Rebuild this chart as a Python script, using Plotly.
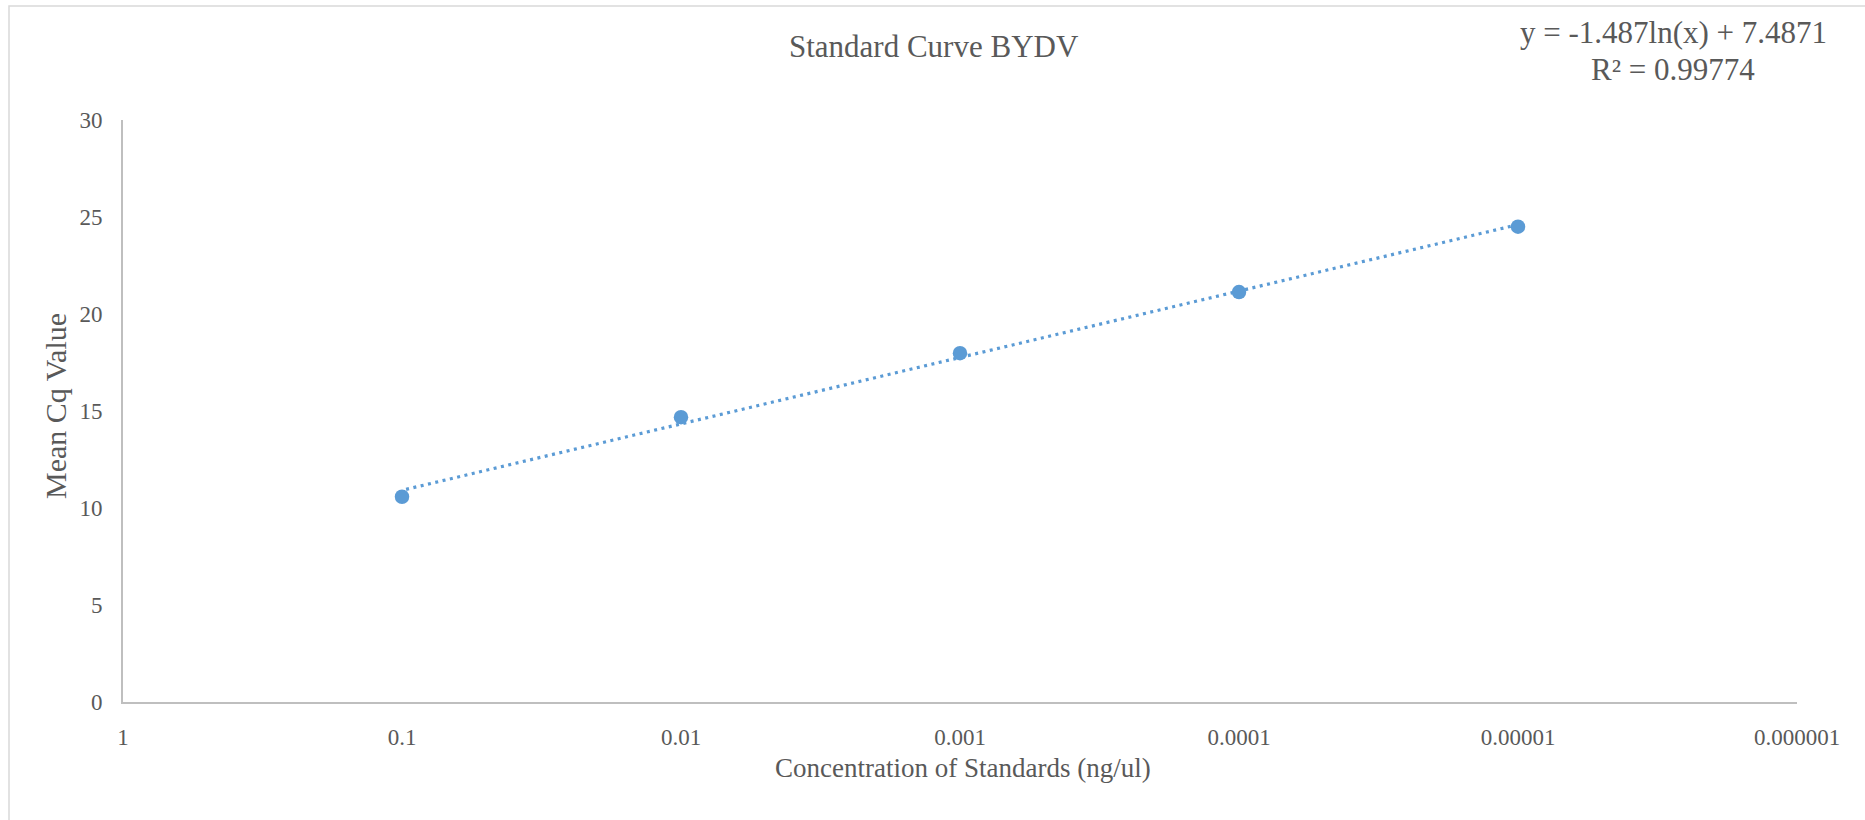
import numpy as np
import plotly.graph_objects as go

# Standard dilutions (ng/ul) and their mean Cq values
concentration = [0.1, 0.01, 0.001, 0.0001, 0.00001]
mean_cq = [10.58, 14.68, 17.98, 21.13, 24.50]

# Logarithmic trendline: y = slope * ln(x) + intercept
slope = -1.487
intercept = 7.4871
r_squared = 0.99774

x_ticks = [1, 0.1, 0.01, 0.001, 0.0001, 0.00001, 0.000001]
x_tick_labels = ["1", "0.1", "0.01", "0.001", "0.0001", "0.00001", "0.000001"]
y_ticks = [0, 5, 10, 15, 20, 25, 30]

W, H = 1865, 820
ML, MR, MT, MB = 123, 68, 120, 118
PW, PH = W - ML - MR, H - MT - MB

BLUE = "#5b9bd5"
TEXT = "#595959"
AXIS = "#bfbfbf"
FONT = "Liberation Serif"


def px_x(p):
    return (p - ML) / PW


def px_y(p):
    return 1 - (p - MT) / PH


trend_x = np.array([min(concentration), max(concentration)])
trend_y = slope * np.log(trend_x) + intercept

fig = go.Figure()
fig.add_trace(go.Scatter(
    x=trend_x, y=trend_y, mode="lines",
    line=dict(color=BLUE, width=3.2, dash="3px,4.5px"),
    hoverinfo="skip", showlegend=False,
))
fig.add_trace(go.Scatter(
    x=concentration, y=mean_cq, mode="markers",
    marker=dict(color=BLUE, size=14.5, line=dict(width=0)),
    showlegend=False,
))

fig.update_layout(
    width=W, height=H,
    margin=dict(l=ML, r=MR, t=MT, b=MB),
    paper_bgcolor="white", plot_bgcolor="white",
    font=dict(family=FONT, color=TEXT),
    showlegend=False,
)

fig.update_xaxes(
    type="log", range=[0, -6],
    tickvals=x_ticks, ticktext=x_tick_labels,
    showgrid=False, zeroline=False,
    showline=True, linecolor=AXIS, linewidth=2,
    ticks="", tickfont=dict(size=23, color=TEXT, family=FONT),
    ticklabelstandoff=13,
)
fig.update_yaxes(
    range=[0, 30], tickvals=y_ticks,
    showgrid=False, zeroline=False,
    showline=True, linecolor=AXIS, linewidth=2,
    ticks="", tickfont=dict(size=23, color=TEXT, family=FONT),
    ticklabelstandoff=14,
)

# Chart frame
fig.add_shape(
    type="rect", xref="paper", yref="paper",
    x0=px_x(9), x1=px_x(W + 20), y0=px_y(H + 20), y1=px_y(6),
    line=dict(color="#d9d9d9", width=1.5), fillcolor="rgba(0,0,0,0)",
    layer="below",
)

annotations = [
    dict(text="Standard Curve BYDV", x=px_x(934), y=px_y(46), size=31, angle=0),
    dict(text="Concentration of Standards (ng/ul)", x=px_x(963), y=px_y(768), size=27, angle=0),
    dict(text="Mean Cq Value", x=px_x(55), y=px_y(406), size=30, angle=-90),
    dict(text=f"y = {slope}ln(x) + {intercept}", x=px_x(1673), y=px_y(32), size=31, angle=0),
    dict(text=f"R² = {r_squared}", x=px_x(1673), y=px_y(69), size=31, angle=0),
]
for a in annotations:
    fig.add_annotation(
        text=a["text"], xref="paper", yref="paper", x=a["x"], y=a["y"],
        xanchor="center", yanchor="middle", showarrow=False,
        textangle=a["angle"], font=dict(size=a["size"], color=TEXT, family=FONT),
    )

fig.write_html("out.html")
